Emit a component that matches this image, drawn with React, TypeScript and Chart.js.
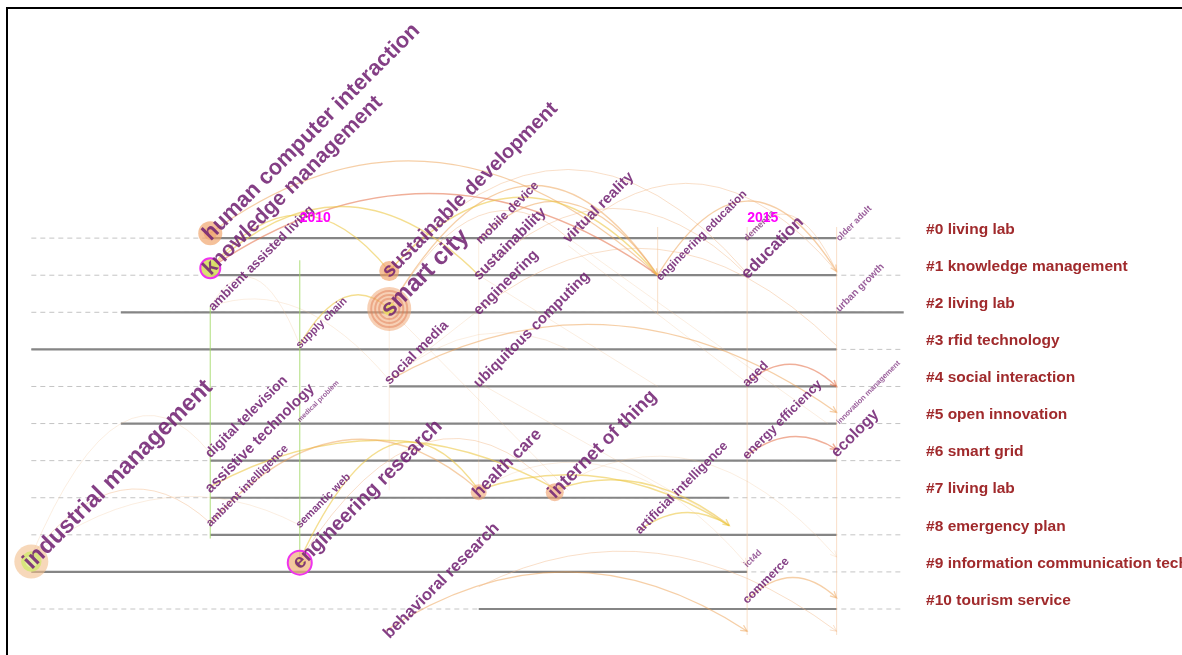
import React, { useEffect, useRef } from 'react';
import { Chart, registerables } from 'chart.js';

Chart.register(...registerables);

const W = 1182;
const H = 655;

// value range of the two hidden axes (years across, cluster rows down)
const X_MIN = 2006.65;
const X_MAX = 2019.86;
const Y_MIN = -6.42;
const Y_MAX = 11.24;

// clusters
const clusterLabels = [
  '#0 living lab',
  '#1 knowledge management',
  '#2 living lab',
  '#3 rfid technology',
  '#4 social interaction',
  '#5 open innovation',
  '#6 smart grid',
  '#7 living lab',
  '#8 emergency plan',
  '#9 information communication technology',
  '#10 tourism service',
];
const clusterRows = [0, 1, 2, 3, 4, 5, 6, 7, 8, 9, 10];
const clusterStart = [2009, 2009, 2008, 2007, 2011, 2008, 2009, 2009, 2009, 2007, 2012];
const clusterEnd = [2016, 2016, 2016.75, 2016, 2016, 2016, 2016, 2014.8, 2016, 2015, 2016];
const timelineFirstYear = 2007;
const timelineLastYear = 2016.75;
const clusterLabelYear = 2017;

// year markers
const yearMarks = [2010, 2015];
const yearMarkRow = -0.55;

// keywords: label, year, row position, label weight (font px)
const keywordNames = [
  'human computer interaction', 'knowledge management', 'ambient assisted living', 'supply chain',
  'sustainable development', 'smart city', 'mobile device', 'sustainability', 'engineering',
  'virtual reality', 'ubiquitous computing', 'social media', 'engineering education', 'dementia',
  'education', 'older adult', 'urban growth', 'aged', 'innovation management', 'energy efficiency',
  'ecology', 'artificial intelligence', 'internet of thing', 'health care', 'behavioral research',
  'ict4d', 'commerce', 'industrial management', 'engineering research', 'semantic web',
  'ambient intelligence', 'assistive technology', 'digital television', 'medical problem',
];
const keywordYears = [
  2009, 2009, 2009.03, 2010,
  2011, 2011, 2012.02, 2012, 2012,
  2013, 2012, 2011, 2014.03, 2015,
  2015, 2016.03, 2016.03, 2015, 2016.03, 2015,
  2016, 2013.8, 2012.85, 2012, 2011.0,
  2015, 2015, 2007, 2010, 2010,
  2009, 2009, 2009, 2010,
];
const keywordRows = [
  -0.13, 0.81, 1.85, 2.88,
  0.89, 1.91, 0.05, 1.0, 1.94,
  0.0, 3.9, 3.83, 1.05, 0.0,
  0.95, 0.0, 1.9, 3.9, 4.95, 5.85,
  5.77, 7.87, 6.85, 6.85, 10.65,
  8.8, 9.75, 8.72, 8.75, 7.72,
  7.68, 6.74, 5.8, 4.9,
];
const keywordWeights = [
  22, 21, 13, 11,
  20, 24, 12.5, 15, 15,
  15, 15, 14, 11.5, 9,
  17, 9, 10, 13, 7.5, 13,
  16, 13, 19, 17, 16.5,
  9, 12, 23.5, 20, 11,
  11.5, 15, 14, 7,
];

// visible node circles: keyword and radius
const nodeKeywords = [
  'human computer interaction', 'knowledge management', 'sustainable development', 'smart city',
  'industrial management', 'engineering research', 'health care', 'internet of thing',
];
const nodeRadii = [12, 10, 10, 22, 17, 12, 8, 9];

// co-occurrence links: [fromYear, fromRow, toYear, toRow, apexRow (null = straight), tone, arrow]
type Link = [number, number, number, number, number | null, string, number];
const links: Link[] = [
  [2009, -0.13, 2014, 1.0, -2.05, 'o', 0],
  [2009, 0.81, 2014, 1.0, -1.2, 'r', 0],
  [2009, 0.81, 2011, 0.89, -0.62, 'y', 0],
  [2009, 0.81, 2012, 1.0, -0.85, 'y', 0],
  [2011, 1.91, 2014, 1.0, -1.4, 'o', 0],
  [2011, 0.89, 2015, 0.95, -1.85, 'p', 0],
  [2012, 0.05, 2014, 1.0, -0.95, 'o', 1],
  [2011, 0.89, 2014, 1.0, -1.1, 'y', 0],
  [2014, 1.0, 2016, 0.9, -1.0, 'o', 1],
  [2013, 0, 2016, 0.9, -1.45, 'p', 0],
  [2012, 1.0, 2015, 1.0, -0.8, 'p', 0],
  [2015, 0, 2016, 0.9, -0.6, 'p', 0],
  [2012, 1.94, 2016, 2.9, 0.3, 'p', 0],
  [2011, 1.91, 2013, 0, -0.6, 'p', 0],
  [2011, 3.83, 2016, 4.7, 2.35, 'o', 1],
  [2015, 3.9, 2016, 4.0, 3.4, 'r', 1],
  [2015, 5.85, 2016, 5.7, 5.35, 'r', 1],
  [2015, 9.75, 2016, 9.7, 9.15, 'o', 1],
  [2010.95, 10.6, 2015, 10.6, 9.0, 'o', 1],
  [2012, 9.4, 2016, 10.6, 8.5, 'p', 1],
  [2009, 6.7, 2012.85, 6.75, 5.45, 'y', 0],
  [2012.85, 6.79, 2014.8, 7.75, 6.6, 'y', 1],
  [2012, 6.79, 2014.8, 7.75, 6.45, 'y', 0],
  [2013.8, 7.87, 2014.8, 7.75, 7.4, 'y', 0],
  [2009, 7.68, 2012, 6.79, 5.45, 'o', 0],
  [2007, 8.57, 2009, 7.68, 6.8, 'p', 0],
  [2007, 8.57, 2010, 7.74, 7.0, 'f', 0],
  [2007, 8.57, 2009, 5.8, 5.0, 'f', 0],
  [2010, 8.68, 2012, 6.79, 5.6, 'y', 0],
  [2010, 8.68, 2012.85, 6.79, 5.5, 'p', 0],
  [2012, 6.79, 2015, 8.8, 6.2, 'f', 1],
  [2012.85, 6.79, 2016, 8.6, 6.0, 'f', 1],
  [2010, 2.88, 2011, 1.91, 1.6, 'y', 0],
  [2009, 1.85, 2010, 2.88, 1.1, 'f', 0],
  [2009, 1.85, 2011, 3.83, 1.9, 'f', 0],
  [2011, 3.83, 2013, 3.0, 2.6, 'f', 0],
  [2009, 1.85, 2009, 8.1, null, 'g', 0],
  [2010, 0.6, 2010, 8.6, null, 'g', 0],
  [2014, -0.3, 2014, 2.05, null, 'p', 0],
  [2015, -0.3, 2015, 10.7, null, 'p', 0],
  [2016, -0.3, 2016, 10.7, null, 'p', 0],
  [2011, 1.9, 2011, 6.8, null, 'f', 0],
  [2012, 0, 2012, 7, null, 'f', 0],
  [2011, 1.91, 2013, 6.8, null, 'f', 0],
  [2012, 1, 2014, 4, null, 'f', 0],
  [2013, 0, 2015.9, 5, null, 'f', 0],
  [2012, 3.9, 2014.8, 7.7, null, 'f', 0],
  [2011, 3.83, 2012, 1.94, null, 'f', 0],
  [2013, 0.2, 2015, 3.9, null, 'f', 0],
];

const FONT = "'Liberation Sans', Arial, sans-serif";
const toneStyle: Record<string, { c: string; w: number }> = {
  o: { c: 'rgba(238,160,80,0.5)', w: 1.3 },
  r: { c: 'rgba(228,110,70,0.55)', w: 1.5 },
  y: { c: 'rgba(236,200,70,0.6)', w: 1.4 },
  g: { c: 'rgba(160,215,100,0.7)', w: 1.2 },
  p: { c: 'rgba(242,185,135,0.45)', w: 1 },
  f: { c: 'rgba(240,190,140,0.26)', w: 1 },
};
const nodeFill: Record<string, string> = {
  'human computer interaction': 'rgba(240,160,100,0.65)',
  'knowledge management': 'rgba(214,222,96,0.9)',
  'sustainable development': 'rgba(240,160,100,0.65)',
  'smart city': 'rgba(240,170,120,0.55)',
  'industrial management': 'rgba(242,190,140,0.6)',
  'engineering research': 'rgba(240,175,120,0.7)',
  'health care': 'rgba(240,165,115,0.6)',
  'internet of thing': 'rgba(240,165,115,0.65)',
};
const nodeBorder: Record<string, string> = {
  'knowledge management': '#ee33ee',
  'engineering research': '#ee33ee',
};

function drawLinks(chart: any) {
  const ctx = chart.ctx as CanvasRenderingContext2D;
  const xs = chart.scales.x;
  const ys = chart.scales.y;
  ctx.save();
  for (const [fy, fr, ty, tr, apex, tone, arrow] of links) {
    const st = toneStyle[tone];
    const x0 = xs.getPixelForValue(fy);
    const y0 = ys.getPixelForValue(fr);
    const x1 = xs.getPixelForValue(ty);
    const y1 = ys.getPixelForValue(tr);
    ctx.strokeStyle = st.c;
    ctx.lineWidth = st.w;
    ctx.beginPath();
    ctx.moveTo(x0, y0);
    let cx = x0;
    let cy = y0;
    if (apex === null) {
      ctx.lineTo(x1, y1);
    } else {
      const ay = ys.getPixelForValue(apex);
      cx = (x0 + x1) / 2;
      cy = 2 * ay - (y0 + y1) / 2;
      ctx.quadraticCurveTo(cx, cy, x1, y1);
    }
    ctx.stroke();
    if (arrow) {
      const ang = Math.atan2(y1 - cy, x1 - cx);
      const L = 7;
      ctx.beginPath();
      ctx.moveTo(x1 - L * Math.cos(ang - 0.45), y1 - L * Math.sin(ang - 0.45));
      ctx.lineTo(x1, y1);
      ctx.lineTo(x1 - L * Math.cos(ang + 0.45), y1 - L * Math.sin(ang + 0.45));
      ctx.stroke();
    }
  }
  ctx.restore();
}

function drawNodeCores(chart: any) {
  const ctx = chart.ctx as CanvasRenderingContext2D;
  const meta = chart.getDatasetMeta(0);
  ctx.save();
  meta.data.forEach((pt: any, i: number) => {
    const name = nodeKeywords[i];
    const r = nodeRadii[i];
    const { x, y } = pt;
    if (name === 'smart city') {
      [0.82, 0.64, 0.46].forEach((f) => {
        ctx.beginPath();
        ctx.arc(x, y, r * f, 0, Math.PI * 2);
        ctx.strokeStyle = 'rgba(225,120,80,0.45)';
        ctx.lineWidth = 2;
        ctx.stroke();
      });
      ctx.beginPath();
      ctx.arc(x, y, r * 0.3, 0, Math.PI * 2);
      ctx.fillStyle = 'rgba(236,220,100,0.85)';
      ctx.fill();
    } else if (name === 'industrial management') {
      ctx.beginPath();
      ctx.arc(x, y, r * 0.6, 0, Math.PI * 2);
      ctx.fillStyle = 'rgba(214,230,120,0.9)';
      ctx.fill();
      ctx.beginPath();
      ctx.arc(x, y, r * 0.35, 0, Math.PI * 2);
      ctx.fillStyle = 'rgba(232,240,170,0.9)';
      ctx.fill();
    } else if (name === 'engineering research') {
      ctx.beginPath();
      ctx.arc(x, y, r * 0.45, 0, Math.PI * 2);
      ctx.fillStyle = 'rgba(236,205,110,0.8)';
      ctx.fill();
    } else if (name === 'human computer interaction' || name === 'sustainable development') {
      ctx.beginPath();
      ctx.arc(x, y, r * 0.55, 0, Math.PI * 2);
      ctx.fillStyle = 'rgba(238,150,90,0.45)';
      ctx.fill();
    }
  });
  ctx.restore();
}

function drawLabels(chart: any) {
  const ctx = chart.ctx as CanvasRenderingContext2D;
  const xs = chart.scales.x;
  const ys = chart.scales.y;
  ctx.save();
  // keyword labels
  keywordNames.forEach((name, i) => {
    const fs = keywordWeights[i];
    const x = xs.getPixelForValue(keywordYears[i]);
    const y = ys.getPixelForValue(keywordRows[i]);
    ctx.save();
    ctx.translate(x, y);
    ctx.rotate(-Math.PI / 4);
    ctx.font = `bold ${fs}px ${FONT}`;
    ctx.textAlign = 'left';
    ctx.textBaseline = 'middle';
    ctx.fillStyle = fs < 11 ? 'rgba(120,42,122,0.75)' : 'rgba(115,36,116,0.88)';
    ctx.fillText(name, -fs * 0.25, 0);
    ctx.restore();
  });
  // year markers
  ctx.font = `bold 14px ${FONT}`;
  ctx.fillStyle = '#ff00ff';
  ctx.textAlign = 'left';
  ctx.textBaseline = 'middle';
  yearMarks.forEach((yr) => {
    ctx.fillText(String(yr), xs.getPixelForValue(yr), ys.getPixelForValue(yearMarkRow));
  });
  // cluster labels
  ctx.font = `bold 15.5px ${FONT}`;
  ctx.fillStyle = '#a02a2c';
  clusterLabels.forEach((lab, i) => {
    ctx.fillText(lab, xs.getPixelForValue(clusterLabelYear), ys.getPixelForValue(clusterRows[i] - 0.23));
  });
  ctx.restore();
}

const timelinePlugin = {
  id: 'timeline',
  beforeDatasetDraw(chart: any, args: any) {
    if (args.index === 0) drawLinks(chart);
  },
  afterDatasetDraw(chart: any, args: any) {
    if (args.index === 0) drawNodeCores(chart);
  },
  afterDatasetsDraw(chart: any) {
    drawLabels(chart);
  },
};

function buildConfig(): any {
  const nodeData = nodeKeywords.map((k) => {
    const i = keywordNames.indexOf(k);
    return { x: keywordYears[i], y: keywordRows[i] };
  });
  const nodeSet = {
    data: nodeData,
    showLine: false,
    pointRadius: nodeRadii,
    pointBackgroundColor: nodeKeywords.map((k) => nodeFill[k]),
    pointBorderColor: nodeKeywords.map((k) => nodeBorder[k] || 'rgba(0,0,0,0)'),
    pointBorderWidth: nodeKeywords.map((k) => (nodeBorder[k] ? 2 : 0)),
    clip: false,
  };
  const solidSets = clusterRows.map((r, i) => ({
    data: [
      { x: clusterStart[i], y: r },
      { x: clusterEnd[i], y: r },
    ],
    showLine: true,
    pointRadius: 0,
    borderColor: '#858585',
    borderWidth: 2.2,
  }));
  const dashSets = clusterRows.map((r) => ({
    data: [
      { x: timelineFirstYear, y: r },
      { x: timelineLastYear, y: r },
    ],
    showLine: true,
    pointRadius: 0,
    borderColor: '#c4c4c4',
    borderWidth: 1,
    borderDash: [5, 4],
  }));
  return {
    type: 'scatter',
    data: { datasets: [nodeSet, ...solidSets, ...dashSets] },
    options: {
      responsive: false,
      maintainAspectRatio: false,
      animation: false,
      devicePixelRatio: 1,
      layout: { padding: 0, autoPadding: false },
      events: [],
      plugins: { legend: { display: false }, tooltip: { enabled: false } },
      scales: {
        x: { type: 'linear', min: X_MIN, max: X_MAX, display: false },
        y: { type: 'linear', min: Y_MIN, max: Y_MAX, reverse: true, display: false },
      },
    },
    plugins: [timelinePlugin],
  };
}

export default function App() {
  const ref = useRef<HTMLCanvasElement>(null);
  useEffect(() => {
    if (!ref.current) return;
    const chart = new Chart(ref.current, buildConfig());
    return () => chart.destroy();
  }, []);
  return (
    <div
      style={{
        position: 'fixed',
        left: 0,
        top: 0,
        width: W,
        height: H,
        overflow: 'hidden',
        background: '#ffffff',
      }}
    >
      <div
        style={{
          position: 'absolute',
          left: 6,
          top: 7,
          width: W + 40,
          height: H + 40,
          borderTop: '2px solid #000',
          borderLeft: '2px solid #000',
          boxSizing: 'border-box',
        }}
      />
      <canvas
        ref={ref}
        width={W}
        height={H}
        style={{ position: 'absolute', left: 0, top: 0, width: W, height: H }}
      />
    </div>
  );
}
